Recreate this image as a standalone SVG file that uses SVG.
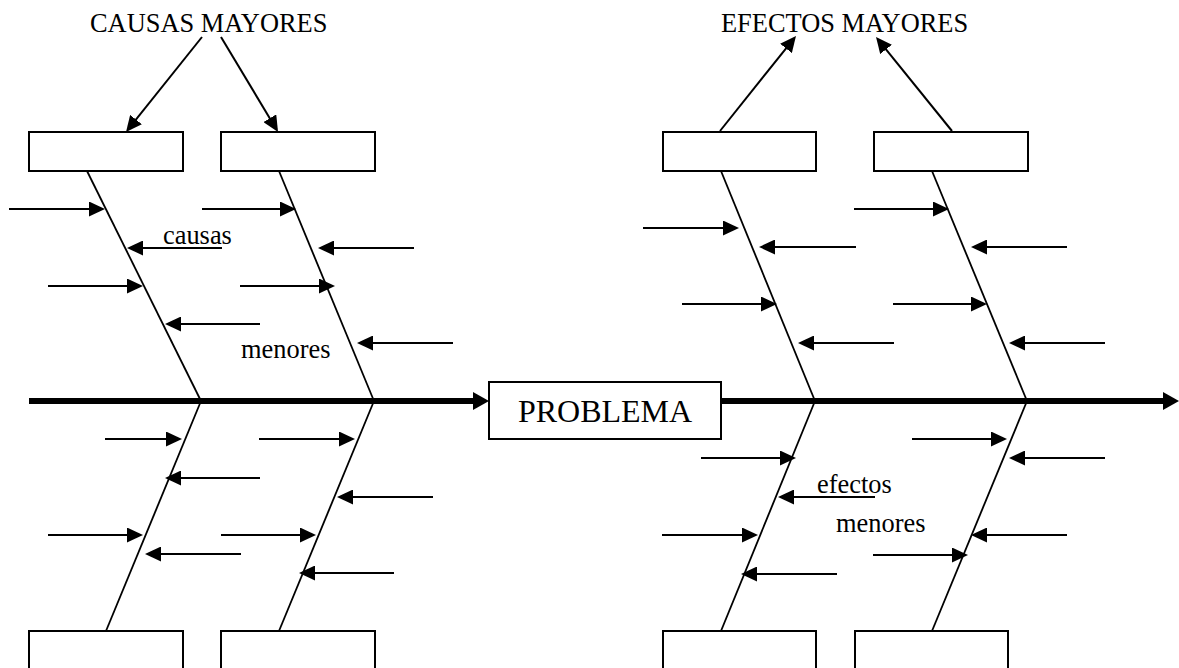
<svg xmlns="http://www.w3.org/2000/svg" width="1179" height="668" viewBox="0 0 1179 668">
  <style>
    .box { fill: #ffffff; stroke: #000000; stroke-width: 2; }
    .bone { fill: none; stroke: #000000; stroke-width: 1.8; }
    .arr { fill: none; stroke: #000000; stroke-width: 2; marker-end: url(#tip); }
    .spine { fill: none; stroke: #000000; stroke-width: 6; marker-end: url(#tipBig); }
    .lbl { font-family: "Liberation Serif", "Times New Roman", serif; font-size: 26.4px; fill: #000000; }
    .big { font-size: 32px; }
  </style>
  <defs>
    <marker id="tip" markerUnits="userSpaceOnUse" markerWidth="16" markerHeight="15" refX="13" refY="7.5" orient="auto">
      <path d="M0,0 L16,7.5 L0,15 z" fill="#000000"/>
    </marker>
    <marker id="tipBig" markerUnits="userSpaceOnUse" markerWidth="16" markerHeight="18" refX="10" refY="9" orient="auto">
      <path d="M0,0 L16,9 L0,18 z" fill="#000000"/>
    </marker>
  </defs>

  <rect width="1179" height="668" fill="#ffffff"/>

  <!-- connectors: spine, bones and minor arrows -->
  <g id="connectors">
    <!-- main spine -->
    <line class="spine" x1="29" y1="401" x2="483" y2="401"/>
    <line class="spine" x1="721" y1="401" x2="1173" y2="401"/>

    <!-- bones -->
    <line class="bone" x1="87" y1="171" x2="201" y2="401"/>
    <line class="bone" x1="279" y1="171" x2="374" y2="401"/>
    <line class="bone" x1="201" y1="401" x2="106" y2="631"/>
    <line class="bone" x1="374" y1="401" x2="279" y2="631"/>
    <line class="bone" x1="721" y1="171" x2="815" y2="401"/>
    <line class="bone" x1="932" y1="171" x2="1027" y2="401"/>
    <line class="bone" x1="815" y1="401" x2="721" y2="631"/>
    <line class="bone" x1="1027" y1="401" x2="932" y2="631"/>

    <!-- major labels to boxes -->
    <line class="arr" x1="202" y1="37" x2="127.9" y2="129.7"/>
    <line class="arr" x1="221" y1="37" x2="276.5" y2="129.4"/>
    <line class="arr" x1="720" y1="131" x2="794.1" y2="38.3"/>
    <line class="arr" x1="952" y1="131" x2="877.9" y2="39.3"/>

    <!-- minor causes, upper left -->
    <line class="arr" x1="9" y1="209" x2="102" y2="209"/>
    <line class="arr" x1="202" y1="209" x2="293" y2="209"/>
    <line class="arr" x1="222" y1="248" x2="130" y2="248"/>
    <line class="arr" x1="414" y1="248" x2="321" y2="248"/>
    <line class="arr" x1="48" y1="286" x2="140" y2="286"/>
    <line class="arr" x1="240" y1="286" x2="332" y2="286"/>
    <line class="arr" x1="260" y1="324" x2="168" y2="324"/>
    <line class="arr" x1="453" y1="343" x2="360" y2="343"/>

    <!-- minor causes, lower left -->
    <line class="arr" x1="105" y1="439" x2="179" y2="439"/>
    <line class="arr" x1="259" y1="439" x2="352" y2="439"/>
    <line class="arr" x1="260" y1="478" x2="168" y2="478"/>
    <line class="arr" x1="433" y1="497" x2="340" y2="497"/>
    <line class="arr" x1="48" y1="535" x2="140" y2="535"/>
    <line class="arr" x1="221" y1="535" x2="313" y2="535"/>
    <line class="arr" x1="241" y1="554" x2="148" y2="554"/>
    <line class="arr" x1="394" y1="573" x2="302" y2="573"/>

    <!-- minor effects, upper right -->
    <line class="arr" x1="643" y1="228" x2="736" y2="228"/>
    <line class="arr" x1="856" y1="247" x2="762" y2="247"/>
    <line class="arr" x1="682" y1="304" x2="774" y2="304"/>
    <line class="arr" x1="894" y1="343" x2="801" y2="343"/>
    <line class="arr" x1="854" y1="209" x2="946" y2="209"/>
    <line class="arr" x1="1067" y1="247" x2="974" y2="247"/>
    <line class="arr" x1="893" y1="304" x2="984" y2="304"/>
    <line class="arr" x1="1105" y1="343" x2="1012" y2="343"/>

    <!-- minor effects, lower right -->
    <line class="arr" x1="701" y1="458" x2="793" y2="458"/>
    <line class="arr" x1="875" y1="497" x2="781" y2="497"/>
    <line class="arr" x1="662" y1="535" x2="755" y2="535"/>
    <line class="arr" x1="837" y1="574" x2="744" y2="574"/>
    <line class="arr" x1="912" y1="439" x2="1004" y2="439"/>
    <line class="arr" x1="1105" y1="458" x2="1012" y2="458"/>
    <line class="arr" x1="1067" y1="535" x2="974" y2="535"/>
    <line class="arr" x1="873" y1="555" x2="965" y2="555"/>
  </g>

  <!-- major cause boxes -->
  <g id="cause-top-1"><rect class="box" x="29" y="132" width="154" height="39"/></g>
  <g id="cause-top-2"><rect class="box" x="221" y="132" width="154" height="39"/></g>
  <g id="cause-bottom-1"><rect class="box" x="29" y="631" width="154" height="50"/></g>
  <g id="cause-bottom-2"><rect class="box" x="221" y="631" width="154" height="50"/></g>

  <!-- major effect boxes -->
  <g id="effect-top-1"><rect class="box" x="663" y="132" width="153" height="39"/></g>
  <g id="effect-top-2"><rect class="box" x="874" y="132" width="154" height="39"/></g>
  <g id="effect-bottom-1"><rect class="box" x="663" y="631" width="153" height="50"/></g>
  <g id="effect-bottom-2"><rect class="box" x="855" y="631" width="153" height="50"/></g>

  <!-- central problem -->
  <g id="problem">
    <rect class="box" x="489" y="382" width="232" height="57"/>
    <text class="lbl big" x="605" y="422" text-anchor="middle">PROBLEMA</text>
  </g>

  <!-- headings and labels -->
  <g id="causas-mayores"><text class="lbl" x="90" y="32">CAUSAS MAYORES</text></g>
  <g id="efectos-mayores"><text class="lbl" x="721" y="32">EFECTOS MAYORES</text></g>
  <g id="causas-label"><text class="lbl" x="163" y="244">causas</text></g>
  <g id="menores-left"><text class="lbl" x="241" y="358">menores</text></g>
  <g id="efectos-label"><text class="lbl" x="817" y="493">efectos</text></g>
  <g id="menores-right"><text class="lbl" x="836" y="532">menores</text></g>
</svg>
